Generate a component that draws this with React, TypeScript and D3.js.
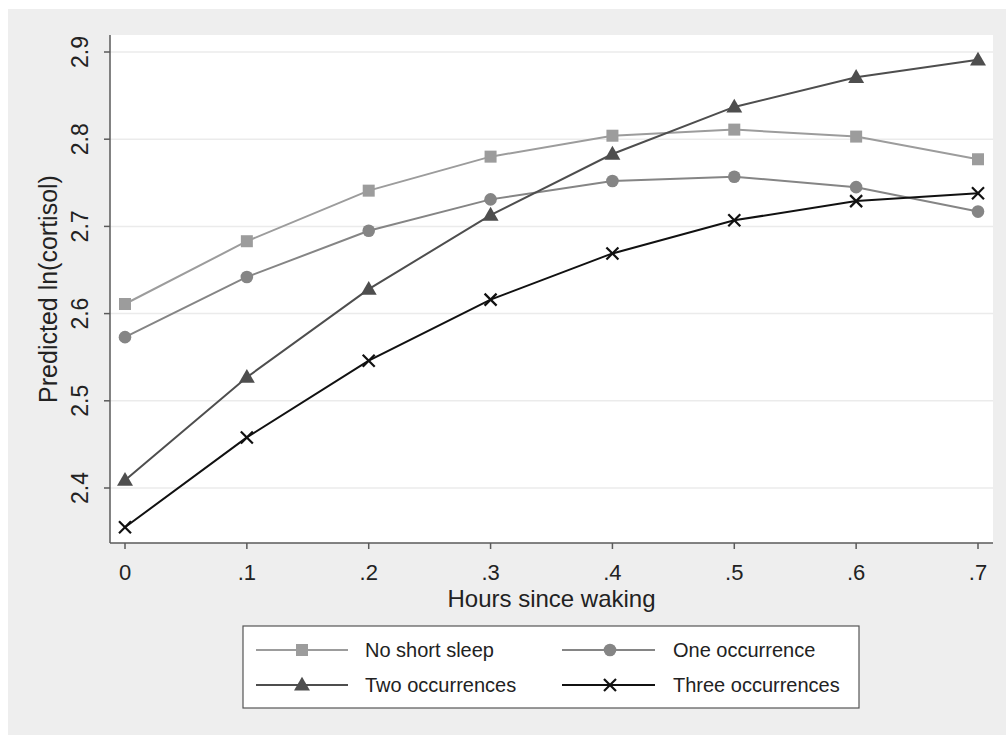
import React from "react";
import * as d3 from "d3";

const hours = [0, 0.1, 0.2, 0.3, 0.4, 0.5, 0.6, 0.7];
const noShortSleep = [2.611, 2.683, 2.741, 2.78, 2.804, 2.811, 2.803, 2.777];
const oneOccurrence = [2.573, 2.642, 2.695, 2.731, 2.752, 2.757, 2.745, 2.717];
const twoOccurrences = [2.409, 2.527, 2.628, 2.713, 2.783, 2.837, 2.871, 2.891];
const threeOccurrences = [2.355, 2.458, 2.546, 2.616, 2.669, 2.707, 2.729, 2.738];

const xTicks = [0, 0.1, 0.2, 0.3, 0.4, 0.5, 0.6, 0.7];
const xTickLabels = ["0", ".1", ".2", ".3", ".4", ".5", ".6", ".7"];
const yTicks = [2.4, 2.5, 2.6, 2.7, 2.8, 2.9];
const yTickLabels = ["2.4", "2.5", "2.6", "2.7", "2.8", "2.9"];

const seriesNames = ["No short sleep", "One occurrence", "Two occurrences", "Three occurrences"];
const seriesValues = [noShortSleep, oneOccurrence, twoOccurrences, threeOccurrences];
const seriesColors = ["#9c9c9c", "#858585", "#4e4e4e", "#111111"];
const seriesMarkers = ["square", "circle", "triangle", "x"];

const FONT = "'Liberation Sans', Arial, sans-serif";

function Marker({ type, cx, cy, color }: { type: string; cx: number; cy: number; color: string }) {
  if (type === "square") return <rect x={cx - 6} y={cy - 6} width={12} height={12} fill={color} />;
  if (type === "circle") return <circle cx={cx} cy={cy} r={6.3} fill={color} />;
  if (type === "triangle") {
    const s = d3.symbol().type(d3.symbolTriangle).size(110)();
    return <path d={s || ""} transform={`translate(${cx},${cy + 1})`} fill={color} />;
  }
  return (
    <g stroke={color} strokeWidth={2.2}>
      <line x1={cx - 6} y1={cy - 6} x2={cx + 6} y2={cy + 6} />
      <line x1={cx - 6} y1={cy + 6} x2={cx + 6} y2={cy - 6} />
    </g>
  );
}

export default function App() {
  const plotL = 110, plotR = 993, plotT = 35, plotB = 543;
  const x = d3.scaleLinear().domain([0, 0.7]).range([125, 978]);
  const y = d3.scaleLinear().domain([2.4, 2.9]).range([488, 52]);
  const line = d3.line<number>().x((_, i) => x(hours[i])).y((d) => y(d));
  const axisColor = "#5a5a5a";

  const legendL = 243, legendT = 626, legendR = 859, legendB = 708;
  const legendCols = [
    { lx1: 256, lx2: 348, mx: 302, tx: 365 },
    { lx1: 562, lx2: 655, mx: 610, tx: 673 },
  ];
  const legendRows = [650, 685];

  return (
    <svg
      width={1006}
      height={735}
      style={{ position: "absolute", left: 0, top: 0 }}
      fontFamily={FONT}
    >
      <rect x={0} y={0} width={1006} height={735} fill="#ffffff" />
      <rect x={8} y={9} width={998} height={726} fill="#eeeeee" />
      <rect x={plotL} y={plotT} width={plotR - plotL} height={plotB - plotT} fill="#ffffff" />

      {yTicks.map((t) => (
        <line key={"g" + t} x1={plotL} x2={plotR} y1={y(t)} y2={y(t)} stroke="#ebebeb" strokeWidth={1.5} />
      ))}

      {seriesValues.map((vals, si) => (
        <path key={"l" + si} d={line(vals) || ""} fill="none" stroke={seriesColors[si]} strokeWidth={2} />
      ))}
      {seriesValues.map((vals, si) =>
        vals.map((v, i) => (
          <Marker key={"m" + si + "-" + i} type={seriesMarkers[si]} cx={x(hours[i])} cy={y(v)} color={seriesColors[si]} />
        ))
      )}

      <line x1={plotL} x2={plotL} y1={plotT} y2={plotB} stroke={axisColor} strokeWidth={1.5} />
      <line x1={plotL} x2={plotR} y1={plotB} y2={plotB} stroke={axisColor} strokeWidth={1.5} />

      {yTicks.map((t, i) => (
        <g key={"yt" + t}>
          <line x1={plotL - 6} x2={plotL} y1={y(t)} y2={y(t)} stroke={axisColor} strokeWidth={1.5} />
          <text
            transform={`translate(88,${y(t)}) rotate(-90)`}
            textAnchor="middle"
            fontSize={23}
            fill="#222"
          >
            {yTickLabels[i]}
          </text>
        </g>
      ))}
      {xTicks.map((t, i) => (
        <g key={"xt" + t}>
          <line x1={x(t)} x2={x(t)} y1={plotB} y2={plotB + 6} stroke={axisColor} strokeWidth={1.5} />
          <text x={x(t)} y={580} textAnchor="middle" fontSize={22} fill="#222">
            {xTickLabels[i]}
          </text>
        </g>
      ))}

      <text x={(plotL + plotR) / 2} y={607} textAnchor="middle" fontSize={24} fill="#222">
        Hours since waking
      </text>
      <text
        transform={`translate(57,${(plotT + plotB) / 2}) rotate(-90)`}
        textAnchor="middle"
        fontSize={25}
        fill="#222"
      >
        Predicted ln(cortisol)
      </text>

      <rect
        x={legendL}
        y={legendT}
        width={legendR - legendL}
        height={legendB - legendT}
        fill="#ffffff"
        stroke="#555"
        strokeWidth={1.2}
      />
      {seriesNames.map((name, si) => {
        const col = legendCols[si % 2];
        const ry = legendRows[Math.floor(si / 2)];
        return (
          <g key={"lg" + si}>
            <line x1={col.lx1} x2={col.lx2} y1={ry} y2={ry} stroke={seriesColors[si]} strokeWidth={2} />
            <Marker type={seriesMarkers[si]} cx={col.mx} cy={ry} color={seriesColors[si]} />
            <text x={col.tx} y={ry + 7} fontSize={20} fill="#222">
              {name}
            </text>
          </g>
        );
      })}
    </svg>
  );
}
